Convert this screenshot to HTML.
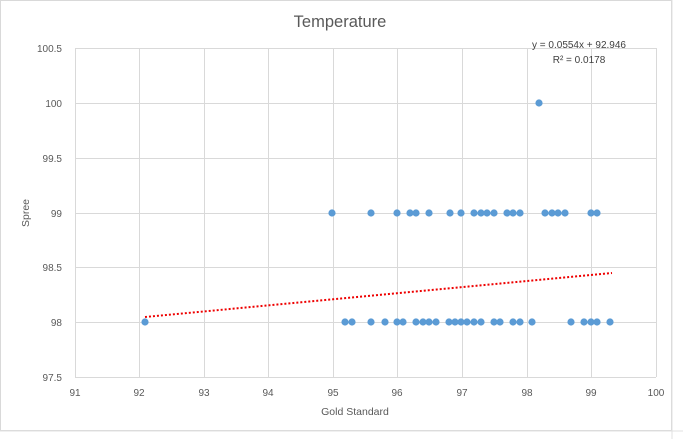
<!DOCTYPE html>
<html><head><style>body{margin:0;background:#fff}svg{display:block}text{font-family:"Liberation Sans",sans-serif;fill:#595959}</style></head><body>
<svg width="683" height="439" viewBox="0 0 683 439">
<rect x="0.5" y="0.5" width="671" height="430" fill="#fff" stroke="#d9d9d9"/>
<line x1="672" y1="0" x2="672" y2="439" stroke="#e0e0e0"/>
<line x1="0" y1="431" x2="683" y2="431" stroke="#e0e0e0"/>
<text x="340" y="27" font-size="16.5" text-anchor="middle">Temperature</text>
<g stroke="#d9d9d9" stroke-width="1">
<line x1="75" y1="48.5" x2="656" y2="48.5"/><line x1="75" y1="103.5" x2="656" y2="103.5"/><line x1="75" y1="158.5" x2="656" y2="158.5"/><line x1="75" y1="213.5" x2="656" y2="213.5"/><line x1="75" y1="267.5" x2="656" y2="267.5"/><line x1="75" y1="322.5" x2="656" y2="322.5"/><line x1="75" y1="377.5" x2="656" y2="377.5"/>
<line x1="75.5" y1="48" x2="75.5" y2="377"/><line x1="139.5" y1="48" x2="139.5" y2="377"/><line x1="204.5" y1="48" x2="204.5" y2="377"/><line x1="268.5" y1="48" x2="268.5" y2="377"/><line x1="333.5" y1="48" x2="333.5" y2="377"/><line x1="397.5" y1="48" x2="397.5" y2="377"/><line x1="462.5" y1="48" x2="462.5" y2="377"/><line x1="527.5" y1="48" x2="527.5" y2="377"/><line x1="591.5" y1="48" x2="591.5" y2="377"/><line x1="656.5" y1="48" x2="656.5" y2="377"/>
</g>
<g font-size="10" text-anchor="end">
<text x="62" y="52">100.5</text><text x="62" y="107">100</text><text x="62" y="162">99.5</text><text x="62" y="217">99</text><text x="62" y="271">98.5</text><text x="62" y="326">98</text><text x="62" y="381">97.5</text>
</g>
<g font-size="10" text-anchor="middle">
<text x="75" y="396">91</text><text x="139" y="396">92</text><text x="204" y="396">93</text><text x="268" y="396">94</text><text x="333" y="396">95</text><text x="397" y="396">96</text><text x="462" y="396">97</text><text x="527" y="396">98</text><text x="591" y="396">99</text><text x="656" y="396">100</text>
</g>
<text x="355" y="415" font-size="10.5" text-anchor="middle">Gold Standard</text>
<text transform="translate(29,213) rotate(-90)" font-size="10.5" text-anchor="middle">Spree</text>
<text x="579" y="48" font-size="10" text-anchor="middle" style="fill:#404040">y = 0.0554x + 92.946</text>
<text x="579" y="63" font-size="10" text-anchor="middle" style="fill:#404040">R² = 0.0178</text>
<line x1="145" y1="317" x2="612" y2="273" stroke="#e00" stroke-width="2" stroke-dasharray="2,2"/>
<g fill="#5b9bd5">
<circle cx="145" cy="322" r="3.6"/><circle cx="539" cy="103" r="3.6"/>
<circle cx="332" cy="213" r="3.6"/><circle cx="371" cy="213" r="3.6"/><circle cx="397" cy="213" r="3.6"/><circle cx="410" cy="213" r="3.6"/><circle cx="416" cy="213" r="3.6"/><circle cx="429" cy="213" r="3.6"/><circle cx="450" cy="213" r="3.6"/><circle cx="461" cy="213" r="3.6"/><circle cx="474" cy="213" r="3.6"/><circle cx="481" cy="213" r="3.6"/><circle cx="487" cy="213" r="3.6"/><circle cx="494" cy="213" r="3.6"/><circle cx="507" cy="213" r="3.6"/><circle cx="513" cy="213" r="3.6"/><circle cx="520" cy="213" r="3.6"/><circle cx="545" cy="213" r="3.6"/><circle cx="552" cy="213" r="3.6"/><circle cx="558" cy="213" r="3.6"/><circle cx="565" cy="213" r="3.6"/><circle cx="591" cy="213" r="3.6"/><circle cx="597" cy="213" r="3.6"/>
<circle cx="345" cy="322" r="3.6"/><circle cx="352" cy="322" r="3.6"/><circle cx="371" cy="322" r="3.6"/><circle cx="385" cy="322" r="3.6"/><circle cx="397" cy="322" r="3.6"/><circle cx="403" cy="322" r="3.6"/><circle cx="416" cy="322" r="3.6"/><circle cx="423" cy="322" r="3.6"/><circle cx="429" cy="322" r="3.6"/><circle cx="436" cy="322" r="3.6"/><circle cx="449" cy="322" r="3.6"/><circle cx="455" cy="322" r="3.6"/><circle cx="461" cy="322" r="3.6"/><circle cx="467" cy="322" r="3.6"/><circle cx="474" cy="322" r="3.6"/><circle cx="481" cy="322" r="3.6"/><circle cx="494" cy="322" r="3.6"/><circle cx="500" cy="322" r="3.6"/><circle cx="513" cy="322" r="3.6"/><circle cx="520" cy="322" r="3.6"/><circle cx="532" cy="322" r="3.6"/><circle cx="571" cy="322" r="3.6"/><circle cx="584" cy="322" r="3.6"/><circle cx="591" cy="322" r="3.6"/><circle cx="597" cy="322" r="3.6"/><circle cx="610" cy="322" r="3.6"/>
</g>
</svg>
</body></html>
